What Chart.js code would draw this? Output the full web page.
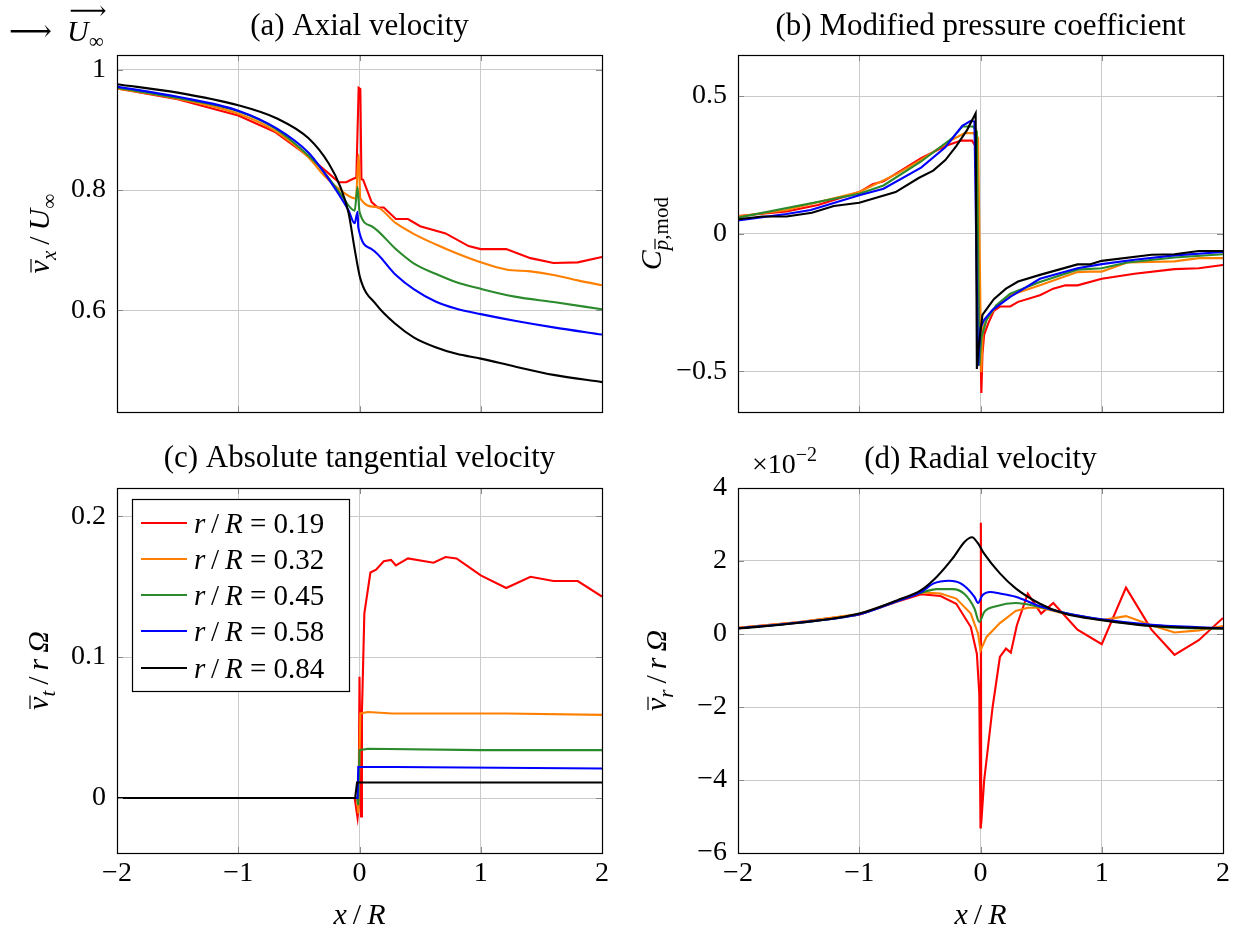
<!doctype html>
<html lang="en">
<head>
  <meta charset="UTF-8">
  <title>Wake profiles</title>
  <script src="https://cdn.jsdelivr.net/npm/chart.js"></script>
  <style>
    body { margin: 0; background: #fff; }
    .cell { position: absolute; }
    #cell_a { left: 0; top: 0; }
    #cell_b { left: 621px; top: 0; }
    #cell_c { left: 0; top: 440px; }
    #cell_d { left: 621px; top: 440px; }
  </style>
</head>
<body>
  <div class="cell" id="cell_a"><canvas id="chart_a" width="621" height="440"></canvas></div>
  <div class="cell" id="cell_b"><canvas id="chart_b" width="621" height="440"></canvas></div>
  <div class="cell" id="cell_c"><canvas id="chart_c" width="621" height="498"></canvas></div>
  <div class="cell" id="cell_d"><canvas id="chart_d" width="621" height="498"></canvas></div>
  <script>
    // series: r/R = 0.19, 0.32, 0.45, 0.58, 0.84
    const radii = ['0.19', '0.32', '0.45', '0.58', '0.84']
    const colors = ['#ff0000', '#ff8000', '#2b8a2b', '#0000ff', '#000000']
    const xTicks = [-2, -1, 0, 1, 2]
    const ticksA = [0.6, 0.8, 1]
    const ticksB = [-0.5, 0, 0.5]
    const ticksC = [0, 0.1, 0.2]
    const ticksD = [-6, -4, -2, 0, 2, 4]

    // (a) axial velocity
    const aRedX = [-2, -1.5, -1, -0.7, -0.42, -0.25, -0.17, -0.11, -0.06, -0.026, -0.007, 0.007, 0.016, 0.03, 0.1, 0.15, 0.2, 0.3, 0.4, 0.5, 0.71, 0.9, 1.0, 1.21, 1.41, 1.6, 1.8, 2.0]
    const aRedY = [0.969, 0.951, 0.924, 0.897, 0.856, 0.827, 0.813, 0.813, 0.818, 0.821, 0.97, 0.968, 0.818, 0.817, 0.78, 0.771, 0.771, 0.752, 0.752, 0.74, 0.728, 0.707, 0.702, 0.702, 0.687, 0.679, 0.68, 0.689]
    const aOrgX = [-2, -1.5, -1, -0.7, -0.42, -0.3, -0.157, -0.03, -0.007, 0.007, 0.137, 0.3, 0.45, 0.627, 0.8, 1.0, 1.21, 1.41, 1.6, 1.8, 2.0]
    const aOrgY = [0.969, 0.952, 0.927, 0.899, 0.854, 0.826, 0.8, 0.786, 0.859, 0.786, 0.772, 0.745, 0.727, 0.71, 0.695, 0.68, 0.668, 0.665, 0.659, 0.65, 0.642]
    const aGrnX = [-2, -1.5, -1, -0.7, -0.42, -0.3, -0.157, -0.04, -0.016, 0, 0.1, 0.3, 0.45, 0.627, 0.8, 1.0, 1.28, 1.6, 2.0]
    const aGrnY = [0.970, 0.953, 0.931, 0.903, 0.857, 0.832, 0.794, 0.766, 0.805, 0.764, 0.74, 0.702, 0.678, 0.661, 0.647, 0.636, 0.623, 0.614, 0.602]
    const aBluX = [-2, -1.5, -1, -0.68, -0.42, -0.32, -0.19, -0.09, -0.04, -0.016, -0.01, 0.1, 0.3, 0.45, 0.627, 0.8, 1.0, 1.28, 1.6, 2.0]
    const aBluY = [0.972, 0.955, 0.932, 0.902, 0.862, 0.837, 0.799, 0.766, 0.745, 0.764, 0.738, 0.702, 0.659, 0.635, 0.615, 0.603, 0.594, 0.583, 0.572, 0.56]
    const aBlkX = [-2, -1.5, -1, -0.68, -0.42, -0.25, -0.157, -0.09, -0.04, 0.007, 0.137, 0.3, 0.45, 0.627, 0.8, 1.0, 1.28, 1.6, 2.0]
    const aBlkY = [0.976, 0.962, 0.941, 0.919, 0.886, 0.843, 0.805, 0.762, 0.702, 0.653, 0.61, 0.577, 0.555, 0.539, 0.528, 0.52, 0.507, 0.493, 0.481]

    // (b) modified pressure coefficient
    const bRedX = [-2, -1.6, -1.34, -1, -0.89, -0.8, -0.69, -0.49, -0.29, -0.16, -0.07, -0.05, -0.03, 0.007, 0.016, 0.03, 0.065, 0.11, 0.16, 0.245, 0.31, 0.49, 0.6, 0.7, 0.8, 1.0, 1.27, 1.6, 1.8, 2.0]
    const bRedY = [0.064, 0.08, 0.104, 0.151, 0.179, 0.19, 0.22, 0.274, 0.318, 0.338, 0.338, 0.324, 0.324, -0.579, -0.438, -0.367, -0.325, -0.281, -0.265, -0.265, -0.248, -0.224, -0.2, -0.188, -0.188, -0.164, -0.146, -0.129, -0.126, -0.114]
    const bOrgX = [-2, -1.6, -1, -0.69, -0.49, -0.23, -0.13, -0.06, -0.04, -0.02, 0.007, 0.02, 0.05, 0.13, 0.245, 0.49, 0.8, 0.9, 1.0, 1.21, 1.6, 1.8, 2.0]
    const bOrgY = [0.062, 0.086, 0.151, 0.217, 0.268, 0.342, 0.365, 0.365, 0.357, 0.348, -0.504, -0.343, -0.313, -0.265, -0.224, -0.188, -0.14, -0.138, -0.138, -0.105, -0.101, -0.089, -0.089]
    const bGrnX = [-2, -1, -0.8, -0.49, -0.23, -0.15, -0.06, -0.03, -0.01, 0.007, 0.05, 0.13, 0.245, 0.49, 0.8, 1.0, 1.21, 1.6, 2.0]
    const bGrnY = [0.058, 0.145, 0.175, 0.262, 0.348, 0.389, 0.389, 0.371, -0.48, -0.379, -0.313, -0.26, -0.218, -0.176, -0.131, -0.126, -0.105, -0.087, -0.075]
    const bBluX = [-2, -1.6, -1.4, -1, -0.8, -0.49, -0.29, -0.15, -0.08, -0.05, -0.02, 0, 0.03, 0.1, 0.245, 0.49, 0.8, 1.0, 1.27, 1.6, 2.0]
    const bBluY = [0.048, 0.071, 0.086, 0.139, 0.163, 0.24, 0.314, 0.392, 0.41, 0.407, -0.48, -0.343, -0.313, -0.277, -0.23, -0.164, -0.126, -0.111, -0.095, -0.079, -0.067]
    const bBlkX = [-2, -1.8, -1.6, -1.39, -1.21, -1, -0.7, -0.51, -0.39, -0.29, -0.2, -0.11, -0.04, -0.03, -0.016, 0.016, 0.065, 0.11, 0.21, 0.31, 0.49, 0.8, 0.9, 1.0, 1.41, 1.6, 1.8, 2.0]
    const bBlkY = [0.052, 0.062, 0.062, 0.076, 0.1, 0.112, 0.151, 0.202, 0.229, 0.267, 0.318, 0.377, 0.437, -0.492, -0.414, -0.295, -0.265, -0.238, -0.2, -0.174, -0.15, -0.112, -0.112, -0.099, -0.077, -0.075, -0.063, -0.063]

    // (c) absolute tangential velocity
    const cRedX = [-2, -0.04, -0.016, -0.007, 0.0, 0.013, 0.02, 0.04, 0.09, 0.137, 0.2, 0.26, 0.3, 0.4, 0.61, 0.71, 0.8, 0.9, 1.0, 1.21, 1.41, 1.6, 1.8, 2.0]
    const cRedY = [0, 0, -0.014, -0.006, 0.086, -0.013, 0.06, 0.131, 0.16, 0.162, 0.168, 0.169, 0.165, 0.17, 0.167, 0.171, 0.17, 0.164, 0.158, 0.149, 0.157, 0.154, 0.154, 0.143]
    const cOrgX = [-2, -0.02, -0.01, 0.007, 0.07, 0.27, 1.0, 1.21, 2.0]
    const cOrgY = [0, 0, -0.011, 0.06, 0.061, 0.06, 0.06, 0.06, 0.059]
    const cGrnX = [-2, -0.02, -0.01, 0.0, 0.07, 1.0, 2.0]
    const cGrnY = [0, 0, -0.005, 0.034, 0.035, 0.034, 0.034]
    const cBluX = [-2, -0.016, -0.01, 0.3, 2.0]
    const cBluY = [0, 0, 0.022, 0.022, 0.021]
    const cBlkX = [-2, -0.036, -0.02, 2.0]
    const cBlkY = [0, 0, 0.011, 0.011]

    // (d) radial velocity, in units of 1e-2
    const dRedX = [-2, -1.51, -1, -0.69, -0.49, -0.33, -0.2, -0.08, -0.03, -0.01, 0.0, 0.003, 0.006, 0.03, 0.1, 0.16, 0.21, 0.25, 0.3, 0.39, 0.5, 0.6, 0.8, 1.0, 1.2, 1.41, 1.6, 1.8, 2.0]
    const dRedY = [0.17, 0.32, 0.53, 0.88, 1.09, 1.04, 0.83, 0.19, -0.54, -1.64, -5.3, 3.05, -5.2, -4.02, -2.0, -0.63, -0.40, -0.51, 0.24, 1.11, 0.56, 0.85, 0.12, -0.28, 1.27, 0.12, -0.57, -0.17, 0.44]
    const dOrgX = [-2, -1.51, -1, -0.69, -0.49, -0.33, -0.2, -0.08, -0.02, 0.0, 0.05, 0.16, 0.29, 0.39, 0.49, 0.69, 1.0, 1.2, 1.41, 1.6, 1.8, 2.0]
    const dOrgY = [0.17, 0.32, 0.55, 0.9, 1.14, 1.11, 0.97, 0.56, 0.01, -0.45, -0.08, 0.30, 0.63, 0.72, 0.72, 0.56, 0.38, 0.49, 0.24, 0.04, 0.10, 0.22]
    const dGrnX = [-2, -1.51, -1, -0.69, -0.49, -0.36, -0.23, -0.13, -0.05, -0.01, 0.03, 0.13, 0.29, 0.49, 0.69, 1.0, 1.6, 2.0]
    const dGrnY = [0.16, 0.31, 0.54, 0.9, 1.13, 1.23, 1.23, 1.09, 0.70, 0.33, 0.60, 0.76, 0.85, 0.74, 0.58, 0.39, 0.17, 0.15]
    const dBluX = [-2, -1.51, -1, -0.69, -0.49, -0.39, -0.26, -0.16, -0.05, -0.02, 0.016, 0.08, 0.16, 0.29, 0.49, 0.69, 1.0, 1.41, 2.0]
    const dBluY = [0.16, 0.31, 0.54, 0.9, 1.15, 1.38, 1.46, 1.38, 1.02, 0.85, 1.06, 1.15, 1.11, 1.02, 0.76, 0.58, 0.40, 0.25, 0.16]
    const dBlkX = [-2, -1.51, -1, -0.69, -0.49, -0.36, -0.23, -0.13, -0.07, -0.02, 0.03, 0.16, 0.29, 0.49, 0.69, 1.0, 1.41, 2.0]
    const dBlkY = [0.15, 0.30, 0.56, 0.92, 1.2, 1.57, 2.07, 2.53, 2.65, 2.48, 2.2, 1.66, 1.25, 0.83, 0.56, 0.38, 0.22, 0.15]

    const serif = '"Liberation Serif", "DejaVu Serif", serif'
    const gridColor = '#cacaca'

    const runFont = (r, size) => {
      const s = (r.sub || r.sup) ? Math.round(size * 0.7) : size
      return `${r.it ? 'italic ' : ''}${s}px ${serif}`
    }

    // draws a row of text pieces (italic, subscript, overline) with baseline at y
    const drawRuns = (ctx, runs, x, y, size, opt = {}) => {
      ctx.save()
      ctx.translate(x, y)
      if (opt.rotate) ctx.rotate(-Math.PI / 2)
      ctx.textBaseline = 'alphabetic'
      ctx.textAlign = 'left'
      ctx.fillStyle = '#000'
      ctx.strokeStyle = '#000'
      const widths = runs.map(r => { ctx.font = runFont(r, size); return ctx.measureText(r.t).width })
      const total = widths.reduce((a, b) => a + b, 0)
      let cx = opt.align === 'left' ? 0 : -total / 2
      runs.forEach((r, i) => {
        ctx.font = runFont(r, size)
        const dy = r.sub ? size * 0.22 : r.sup ? -size * 0.42 : 0
        ctx.fillText(r.t, cx, dy)
        if (r.over) {
          const h = (r.sub ? size * 0.7 : size) * 0.6
          ctx.lineWidth = 1.2
          ctx.beginPath()
          ctx.moveTo(cx + 1, dy - h)
          ctx.lineTo(cx + widths[i] + 1, dy - h)
          ctx.stroke()
        }
        cx += widths[i]
      })
      ctx.restore()
    }

    const decor = {
      id: 'decor',
      afterDraw(chart, args, o) {
        const {ctx, chartArea: a, scales} = chart
        ctx.save()
        // short tick marks on all four sides, at the gridline positions
        ctx.strokeStyle = '#8a8a8a'
        ctx.lineWidth = 1
        ctx.beginPath()
        scales.x.ticks.forEach(t => {
          const px = Math.round(scales.x.getPixelForValue(t.value)) + 0.5
          ctx.moveTo(px, a.top); ctx.lineTo(px, a.top + 6)
          ctx.moveTo(px, a.bottom); ctx.lineTo(px, a.bottom - 6)
        })
        scales.y.ticks.forEach(t => {
          const py = Math.round(scales.y.getPixelForValue(t.value)) + 0.5
          ctx.moveTo(a.left, py); ctx.lineTo(a.left + 6, py)
          ctx.moveTo(a.right, py); ctx.lineTo(a.right - 6, py)
        })
        ctx.stroke()
        ctx.strokeStyle = '#000'
        ctx.lineWidth = 1.2
        ctx.strokeRect(Math.round(a.left) + 0.5, Math.round(a.top) + 0.5, Math.round(a.right - a.left), Math.round(a.bottom - a.top))
        ctx.restore()
        const mid = (a.left + a.right) / 2
        drawRuns(ctx, [{t: o.title}], mid, o.titleY, 31)
        drawRuns(ctx, o.ylabel, o.ylabelX, (a.top + a.bottom) / 2, 30, {rotate: true})
        if (o.xlabel) drawRuns(ctx, [{t: 'x', it: true}, {t: '\u2009/\u2009'}, {t: 'R', it: true}], mid, 484, 30)
        if (o.extra) o.extra(ctx, chart)
      }
    }

    const fmt = v => (Math.abs(v) < 1e-9 ? '0' : String(+v.toFixed(2))).replace('-', '\u2212')

    const build = (id, cfg) => {
      const datasets = cfg.series.map((s, i) => ({
        label: 'r/R = ' + radii[i],
        data: s[0].map((x, k) => ({x, y: s[1][k]})),
        borderColor: colors[i],
        borderWidth: 2.1,
        pointRadius: 0,
        cubicInterpolationMode: cfg.smooth[i] ? 'monotone' : 'default',
        tension: 0,
        fill: false,
        order: 5 - i
      }))
      const tickFont = {family: serif, size: 28}
      return new Chart(document.getElementById(id), {
        type: 'line',
        data: {datasets},
        options: {
          responsive: false,
          animation: false,
          events: [],
          layout: {padding: {left: 0, right: 19, top: cfg.padTop, bottom: cfg.padBottom}},
          plugins: {legend: {display: false}, tooltip: {enabled: false}, decor: cfg.decor},
          scales: {
            x: {
              type: 'linear', min: -2, max: 2,
              afterBuildTicks: s => { s.ticks = xTicks.map(v => ({value: v})) },
              afterFit: s => { s.height = cfg.xHeight },
              grid: {color: gridColor, drawTicks: false},
              border: {display: false},
              ticks: {display: cfg.showX, padding: 4, font: tickFont, color: '#000', callback: fmt, maxRotation: 0}
            },
            y: {
              type: 'linear', min: cfg.yMin, max: cfg.yMax,
              afterBuildTicks: s => { s.ticks = cfg.yTicks.map(v => ({value: v})) },
              afterFit: s => { s.width = 117 },
              grid: {color: gridColor, drawTicks: false},
              border: {display: false},
              ticks: {padding: 11, font: tickFont, color: '#000', callback: fmt}
            }
          }
        },
        plugins: [decor]
      })
    }

    const topOpts = {padTop: 55, padBottom: 20, xHeight: 0, showX: false}
    const botOpts = {padTop: 48, padBottom: 0, xHeight: 85, showX: true}

    build('chart_a', {
      ...topOpts, yMin: 0.431, yMax: 1.0245, yTicks: ticksA,
      smooth: [false, true, true, true, true],
      series: [[aRedX, aRedY], [aOrgX, aOrgY], [aGrnX, aGrnY], [aBluX, aBluY], [aBlkX, aBlkY]],
      decor: {
        title: '(a) Axial velocity', titleY: 35, ylabelX: 49,
        ylabel: [{t: 'v', it: true, over: true}, {t: 'x', it: true, sub: true}, {t: '\u2009/\u2009'}, {t: 'U', it: true}, {t: '\u221e', sub: true}],
        extra: ctx => {
          drawRuns(ctx, [{t: '\u27f6\u2002'}, {t: 'U', it: true}, {t: '\u221e', sub: true}], 9, 41, 30, {align: 'left'})
          drawRuns(ctx, [{t: '\u27f6'}], 88, 19, 26)
        }
      }
    })

    build('chart_b', {
      ...topOpts, yMin: -0.649, yMax: 0.649, yTicks: ticksB,
      smooth: [false, false, false, false, false],
      series: [[bRedX, bRedY], [bOrgX, bOrgY], [bGrnX, bGrnY], [bBluX, bBluY], [bBlkX, bBlkY]],
      decor: {
        title: '(b) Modified pressure coefficient', titleY: 35, ylabelX: 40,
        ylabel: [{t: 'C', it: true}, {t: 'p', it: true, sub: true, over: true}, {t: ',mod', sub: true}]
      }
    })

    build('chart_c', {
      ...botOpts, yMin: -0.039, yMax: 0.22, yTicks: ticksC,
      smooth: [false, false, false, false, false],
      series: [[cRedX, cRedY], [cOrgX, cOrgY], [cGrnX, cGrnY], [cBluX, cBluY], [cBlkX, cBlkY]],
      decor: {
        title: '(c) Absolute tangential velocity', titleY: 27, ylabelX: 48, xlabel: true,
        ylabel: [{t: 'v', it: true, over: true}, {t: 't', it: true, sub: true}, {t: '\u2009/\u2009'}, {t: 'r', it: true}, {t: '\u2009\u03a9', it: true}],
        extra: (ctx, chart) => {
          ctx.save()
          ctx.fillStyle = '#fff'
          ctx.strokeStyle = '#000'
          ctx.lineWidth = 1.2
          ctx.fillRect(132, 59, 217, 192)
          ctx.strokeRect(132.5, 59.5, 217, 192)
          const rowY = [83, 119, 155, 191, 228]
          chart.data.datasets.forEach((ds, i) => {
            ctx.strokeStyle = ds.borderColor
            ctx.lineWidth = 2.1
            ctx.beginPath()
            ctx.moveTo(141, rowY[i])
            ctx.lineTo(187, rowY[i])
            ctx.stroke()
            drawRuns(ctx, [{t: 'r', it: true}, {t: '\u2009/\u2009'}, {t: 'R', it: true}, {t: ' = ' + radii[i]}], 194, rowY[i] + 10, 29, {align: 'left'})
          })
          ctx.restore()
        }
      }
    })

    build('chart_d', {
      ...botOpts, yMin: -6, yMax: 4, yTicks: ticksD,
      smooth: [false, false, true, true, true],
      series: [[dRedX, dRedY], [dOrgX, dOrgY], [dGrnX, dGrnY], [dBluX, dBluY], [dBlkX, dBlkY]],
      decor: {
        title: '(d) Radial velocity', titleY: 28, ylabelX: 45, xlabel: true,
        ylabel: [{t: 'v', it: true, over: true}, {t: 'r', it: true, sub: true}, {t: '\u2009/\u2009'}, {t: 'r', it: true}, {t: '\u2009\u03a9', it: true}],
        extra: ctx => {
          drawRuns(ctx, [{t: '\u00d710'}, {t: '\u22122', sup: true}], 131, 33, 28, {align: 'left'})
        }
      }
    })
  </script>
</body>
</html>
